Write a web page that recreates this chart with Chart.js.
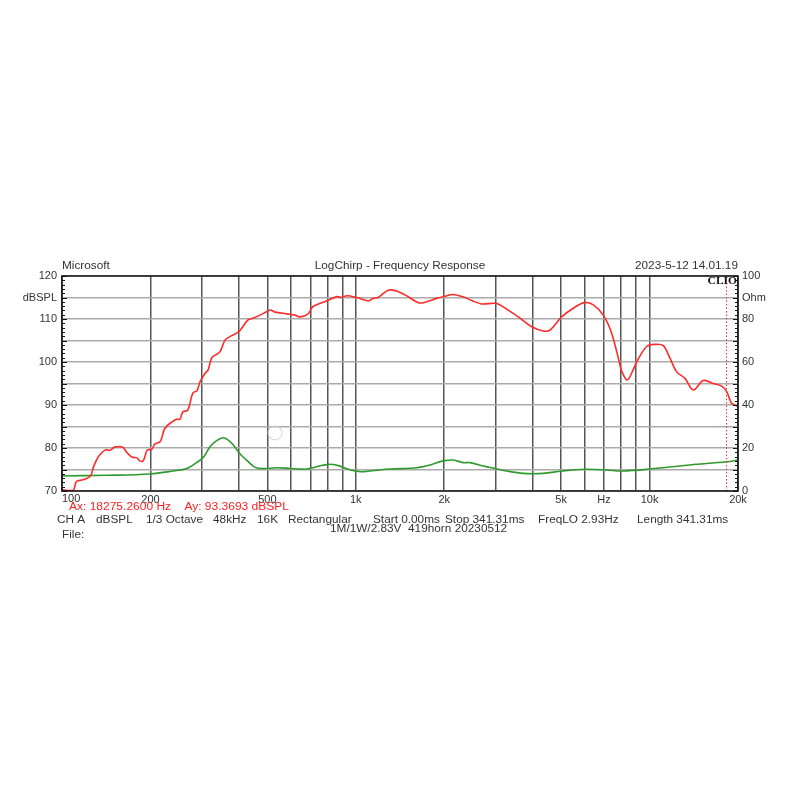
<!DOCTYPE html>
<html>
<head>
<meta charset="utf-8">
<script src="https://cdn.jsdelivr.net/npm/chart.js@4.4.0/dist/chart.umd.min.js"></script>
<style>
html, body { margin: 0; padding: 0; background: #fff; }
#wrap { width: 800px; height: 800px; }
</style>
</head>
<body>
<div id="wrap"><canvas id="freqChart" width="800" height="800"></canvas></div>
<script>
// --------- values ---------------------------------
const splFreq = [100, 109, 112, 118, 125, 128, 133, 140, 146, 151, 161, 166, 173, 180, 184, 189, 195, 202, 207, 216,
  224, 237, 246, 252, 258, 268, 279, 288, 295, 307, 314, 323, 332, 345, 359, 373, 393, 404, 430, 447,
  472, 497, 513, 531, 582, 621, 646, 688, 715, 796, 861, 895, 931, 1007, 1103, 1147, 1190, 1290, 1378, 1471,
  1632, 1697, 1885, 2012, 2147, 2353, 2480, 2682, 3017, 3263, 3623, 3969, 4347, 4581, 5021, 5500, 5995, 6433, 6958, 7430,
  7931, 8011, 8395, 8780, 9036, 9773, 10431, 11134, 11733, 12370, 13201, 14085, 15233, 16477, 17598, 18300, 19030, 19793, 20000];
const splDb = [70.3, 70.1, 72.2, 72.6, 73.5, 75.6, 78, 79.5, 79.5, 80.2, 80.2, 79, 77.9, 77.7, 77, 77, 79.5, 79.7, 80.9, 81.5,
  84.6, 86.1, 86.7, 86.7, 88.4, 88.8, 92.8, 93.3, 95.4, 97.4, 98.1, 100.9, 101.6, 102.4, 105.1, 105.9, 106.7, 107.4, 109.8, 110.2,
  110.9, 111.7, 112.1, 111.6, 111.2, 110.9, 110.5, 111.2, 112.9, 114.2, 115.2, 115, 115.4, 115, 114.2, 114.8, 115, 116.7, 116.5, 115.6,
  113.8, 113.8, 114.8, 115.3, 115.7, 115, 114.3, 113.5, 113.6, 112.3, 110.2, 108.2, 107.2, 107.4, 110.5, 112.5, 113.8, 113.3, 110.9, 106.7,
  99.3, 98.1, 95.8, 98.1, 100, 103.6, 104.1, 103.8, 100.9, 97.7, 96.2, 93.5, 95.7, 95, 94.4, 93.1, 90.4, 89.8, 89.7];

const impFreq = [100, 142, 199, 239, 266, 287, 303, 319, 336, 354, 368, 383, 404, 425, 454, 485, 538, 597, 646, 681,
  736, 806, 872, 943, 1033, 1133, 1308, 1612, 1789, 1985, 2147, 2322, 2447, 2716, 2977, 3263, 3716, 4347, 5021, 6027,
  7145, 8035, 10032, 13730, 18300, 20000];
const impOhm = [7.0, 7.3, 7.9, 9.3, 10.5, 13.2, 15.7, 20.6, 23.4, 24.8, 23.7, 21.4, 17.2, 14.4, 11, 10.4, 10.8, 10.5, 10.2, 10.2,
  11.3, 12.4, 11.8, 10.1, 9.0, 9.4, 10.2, 10.8, 12.1, 14, 14.4, 13.2, 13.2, 11.6, 10.5, 9.3, 8.2, 8.2, 9.3, 10.1,
  9.8, 9.3, 10.2, 12.1, 13.6, 14.4];

const xGridFreqs = [100, 200, 300, 400, 500, 600, 700, 800, 900, 1000, 2000, 3000, 4000, 5000, 6000, 7000, 8000, 9000, 10000, 20000];
const xTickLabels = { 100: '100', 200: '200', 500: '500', 1000: '1k', 2000: '2k', 5000: '5k', 7000: 'Hz', 10000: '10k', 20000: '20k' };

const cursorFreq = 18275.26;
const cursorDb = 93.3693;
const markerFreq = 531;
const markerDb = 83.5;

const headerTexts = ['Microsoft', 'LogChirp - Frequency Response', '2023-5-12 14.01.19'];
const infoItems = ['CH A', 'dBSPL', '1/3 Octave', '48kHz', '16K', 'Rectangular', 'Start 0.00ms', 'Stop 341.31ms', 'FreqLO 2.93Hz', 'Length 341.31ms'];
const infoX = [57, 96, 146, 213, 257, 288, 373, 445, 538, 637];

// ---------- helpers ----------
function stretchText(ctx, txt, x, y, align, font, color, sx) {
    ctx.save();
    ctx.font = font;
    ctx.fillStyle = color;
    ctx.textBaseline = 'middle';
    const w = ctx.measureText(txt).width * sx;
    let left = x;
    if (align === 'center') left = x - w / 2;
    if (align === 'right') left = x - w;
    ctx.translate(left, y);
    ctx.scale(sx, 1);
    ctx.textAlign = 'left';
    ctx.fillText(txt, 0, 0);
    ctx.restore();
}

const decorPlugin = {
    id: 'decor',
    afterDatasetsDraw(chart) {
        const ctx = chart.ctx;
        const a = chart.chartArea;
        const xs = chart.scales.x, ys = chart.scales.y;

        // cursor line
        const cx = xs.getPixelForValue(cursorFreq);
        ctx.save();
        ctx.strokeStyle = '#ff3030';
        ctx.lineWidth = 1;
        ctx.setLineDash([1.5, 2]);
        ctx.beginPath();
        ctx.moveTo(cx, a.top);
        ctx.lineTo(cx, a.bottom);
        ctx.stroke();
        ctx.restore();

        // faint marker circle
        ctx.save();
        ctx.strokeStyle = '#d0d0d0';
        ctx.lineWidth = 1;
        ctx.beginPath();
        ctx.arc(xs.getPixelForValue(markerFreq), ys.getPixelForValue(markerDb), 7, 0, Math.PI * 2);
        ctx.stroke();
        ctx.restore();

        // border + minor ticks
        ctx.save();
        ctx.strokeStyle = '#111';
        ctx.lineWidth = 1.5;
        ctx.strokeRect(a.left, a.top, a.right - a.left, a.bottom - a.top);
        ctx.lineWidth = 1;
        ctx.beginPath();
        for (let v = 70; v <= 120; v++) {
            const py = Math.round(ys.getPixelForValue(v)) + 0.5;
            const len = v % 5 === 0 ? 5 : 3;
            ctx.moveTo(a.left, py); ctx.lineTo(a.left + len, py);
            ctx.moveTo(a.right, py); ctx.lineTo(a.right - len, py);
        }
        ctx.stroke();
        ctx.restore();

        // first x label sits left-aligned at the axis start
        ctx.save();
        ctx.font = '11px "Liberation Sans", Arial, sans-serif';
        ctx.fillStyle = '#333';
        ctx.textBaseline = 'top';
        ctx.textAlign = 'left';
        ctx.fillText(xTickLabels[100], a.left, a.bottom + 2);
        ctx.restore();

        // texts
        const f = '10px "Liberation Sans", Arial, sans-serif';
        stretchText(ctx, headerTexts[0], a.left, 266, 'left', f, '#333', 1.18);
        stretchText(ctx, headerTexts[1], 400, 266, 'center', f, '#333', 1.18);
        stretchText(ctx, headerTexts[2], a.right, 266, 'right', f, '#333', 1.18);
        stretchText(ctx, 'CLIO', a.right - 1, 281, 'right', 'bold 10px "Liberation Serif", serif', '#111', 1.15);
        stretchText(ctx, 'Ax: ' + cursorFreq.toFixed(4) + ' Hz    Ay: ' + cursorDb.toFixed(4) + ' dBSPL', 69, 507, 'left', f, '#ff2020', 1.2);
        infoItems.forEach((t, i) => stretchText(ctx, t, infoX[i], 520, 'left', f, '#333', 1.18));
        stretchText(ctx, '1M/1W/2.83V  419horn 20230512', 330, 529, 'left', f, '#333', 1.18);
        stretchText(ctx, 'File:', 62, 535, 'left', f, '#333', 1.18);
    }
};

const tickFont = { family: '"Liberation Sans", Arial, sans-serif', size: 11 };

const freqCtx = document.getElementById('freqChart').getContext('2d');
let freqChart = new Chart(freqCtx, {
    type: 'line',
    data: {
        datasets: [{
            label: 'dBSPL',
            data: splFreq.map((f, i) => ({ x: f, y: splDb[i] })),
            borderColor: '#ff2a2a',
            borderWidth: 1.6,
            pointRadius: 0,
            tension: 0.35,
            yAxisID: 'y'
        }, {
            label: 'Ohm',
            data: impFreq.map((f, i) => ({ x: f, y: impOhm[i] })),
            borderColor: '#2e9a2e',
            borderWidth: 1.6,
            pointRadius: 0,
            tension: 0.35,
            yAxisID: 'y1'
        }]
    },
    options: {
        responsive: false,
        animation: false,
        layout: { padding: { top: 276, left: 0, right: 0, bottom: 0 } },
        plugins: { legend: { display: false }, tooltip: { enabled: false } },
        scales: {
            x: {
                type: 'logarithmic',
                min: 100,
                max: 20000,
                afterBuildTicks: s => { s.ticks = xGridFreqs.map(v => ({ value: v })); },
                afterFit: s => { s.height = 309; },
                ticks: {
                    autoSkip: false, maxRotation: 0, padding: 2, color: '#333', font: tickFont,
                    callback: v => (v === 100 ? '' : (xTickLabels[v] || ''))
                },
                grid: { color: '#555', lineWidth: 1.5, drawTicks: false },
                border: { display: false }
            },
            y: {
                position: 'left',
                min: 70,
                max: 120,
                afterFit: s => { s.width = 62; },
                ticks: {
                    stepSize: 5, padding: 5, color: '#333', font: tickFont,
                    callback: v => v % 10 === 0 ? v : (v === 115 ? 'dBSPL' : '')
                },
                grid: { color: '#aaa', lineWidth: 1.5, drawTicks: false },
                border: { display: false }
            },
            y1: {
                position: 'right',
                min: 0,
                max: 100,
                afterFit: s => { s.width = 62; },
                ticks: {
                    stepSize: 10, padding: 4, color: '#333', font: tickFont,
                    callback: v => v % 20 === 0 ? v : (v === 90 ? 'Ohm' : '')
                },
                grid: { display: false, drawTicks: false },
                border: { display: false }
            }
        }
    },
    plugins: [decorPlugin]
});
</script>
</body>
</html>
